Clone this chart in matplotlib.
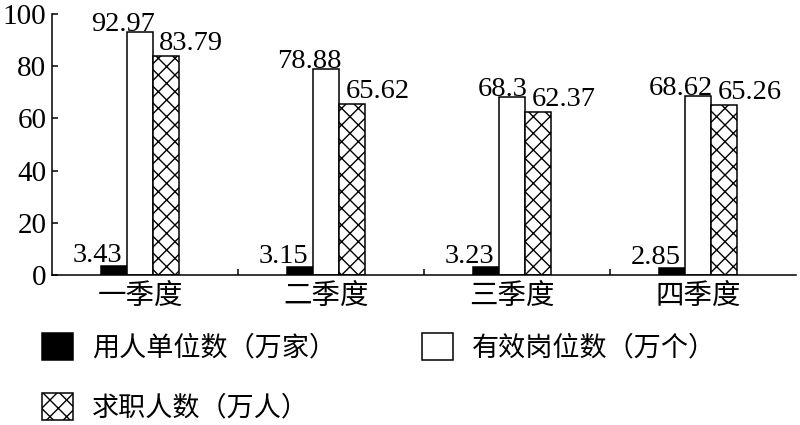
import matplotlib
matplotlib.use("Agg")
import matplotlib.pyplot as plt
from matplotlib.patches import Patch
import numpy as np

plt.rcParams['font.family'] = ['Liberation Serif', 'Noto Sans CJK SC', 'DejaVu Sans']
plt.rcParams['hatch.linewidth'] = 1.0

categories = ['一季度', '二季度', '三季度', '四季度']
employers = [3.43, 3.15, 3.23, 2.85]
positions = [92.97, 78.88, 68.3, 68.62]
seekers = [83.79, 65.62, 62.37, 65.26]
series_names = ['用人单位数（万家）', '有效岗位数（万个）', '求职人数（万人）']
y_ticks = [0, 20, 40, 60, 80, 100]

fig = plt.figure(figsize=(8, 4.25), dpi=100)
ax = fig.add_axes([52/800, 1 - 275/425, 744/800, 261/425])

x = np.arange(len(categories)) - 0.025
w = 0.14
lw = 1.1
b1 = ax.bar(x - w, employers, w, color='black', edgecolor='black', linewidth=lw)
b2 = ax.bar(x, positions, w, color='white', edgecolor='black', linewidth=lw)
b3 = ax.bar(x + w, seekers, w, color='white', edgecolor='black', hatch='xx', linewidth=lw)

fs = 20.5
for xi, v in zip(x - w, employers):
    ax.annotate(f'{v:g}', (xi + w/2, v), xytext=(-5, 4), textcoords='offset pixels',
                ha='right', va='baseline', fontsize=fs)
for xi, v in zip(x, positions):
    ax.annotate(f'{v:g}', (xi + w/2, v), xytext=(2, 1), textcoords='offset pixels',
                ha='right', va='baseline', fontsize=fs)
for xi, v in zip(x + w, seekers):
    ax.annotate(f'{v:g}', (xi - w/2, v), xytext=(6, 6), textcoords='offset pixels',
                ha='left', va='baseline', fontsize=fs)

ax.set_xlim(-0.5, 3.5)
ax.set_ylim(0, 100)
ax.set_yticks(y_ticks)
ax.set_yticklabels([str(t) for t in y_ticks], fontsize=21)
ax.set_xticks(x)
ax.set_xticklabels(categories, fontsize=20.5)
ax.tick_params(axis='x', which='major', length=0, pad=7)
ax.set_xticks([0.5, 1.5, 2.5], minor=True)
ax.tick_params(axis='x', which='minor', direction='in', length=4, width=lw)
ax.tick_params(axis='y', direction='in', length=4, width=lw, pad=4)
for s in ['top', 'right']:
    ax.spines[s].set_visible(False)
for s in ['left', 'bottom']:
    ax.spines[s].set_linewidth(lw)

lfs = 19.5
lpx = lfs * 100 / 72
handles = [Patch(facecolor='black', edgecolor='black', linewidth=lw),
           Patch(facecolor='white', edgecolor='black', hatch='xx', linewidth=lw),
           Patch(facecolor='white', edgecolor='black', linewidth=lw)]
labels = [series_names[0], series_names[2], series_names[1]]
fig.legend(handles, labels, loc='upper left', bbox_to_anchor=(42/800, 1 - 333/425),
           ncol=2, frameon=False, fontsize=lfs, borderpad=0, borderaxespad=0,
           handlelength=31/lpx, handleheight=31/lpx, handletextpad=19/lpx,
           columnspacing=86/lpx, labelspacing=1.15)

fig.savefig('out.png', dpi=100)
